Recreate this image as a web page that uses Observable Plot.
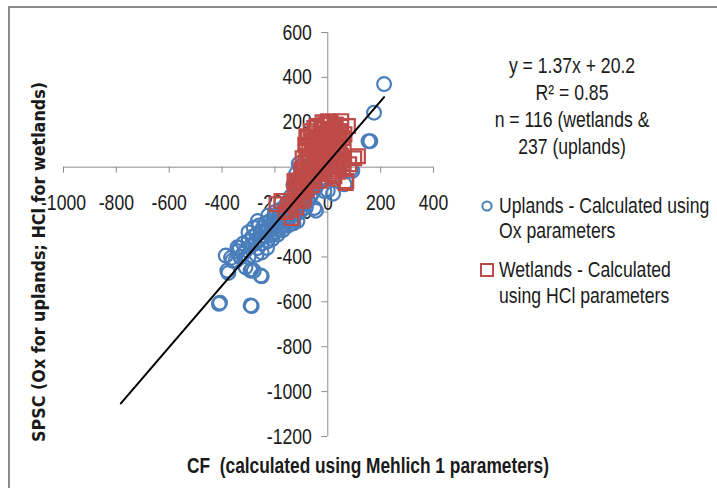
<!DOCTYPE html>
<html>
<head>
<meta charset="utf-8">
<script src="https://cdn.jsdelivr.net/npm/d3@7"></script>
<script src="https://cdn.jsdelivr.net/npm/@observablehq/plot@0.6"></script>
<style>
  html, body { margin: 0; padding: 0; background: #fff; overflow: hidden; }
  #wrap { position: relative; width: 717px; height: 488px; }
  #frame { position: absolute; left: 8px; top: 6px; width: 730px; height: 500px; border: 2px solid #8a8a8a; box-sizing: border-box; }
  .t { position: absolute; font-family: 'Liberation Sans', Arial, sans-serif; font-size: 22px; color: #1a1a1a; white-space: nowrap; line-height: 1; }
  .stat { transform: translate(-50%, -50%) scaleX(0.8); transform-origin: 50% 50%; }
  .leg { transform: translate(0, -50%) scaleX(0.8); transform-origin: 0 50%; }
</style>
</head>
<body>
<div id="wrap">
  <div id="frame"></div>
  <div id="chart"></div>
</div>
<script>
// ---- data ----
const xTicks = [-1000, -800, -600, -400, -200, 0, 200, 400];
const yTicks = [-1200, -1000, -800, -600, -400, -200, 0, 200, 400, 600];

const uplandsX = [213, 175, 161, 154, 86, 93, 63, 20, 0, -13, -45, -51, -83,
  -408, -288, -376, -366, -250, -288, -280, -333, -340, -320, -386, -380, -311, -292, -254, -412, -292, -342, -361, -330, -300, -227,
  -300, -290, -285, -275, -270, -265, -260, -255, -250, -245, -240, -238, -232, -228, -225, -220, -215, -212, -208, -205,
  -200, -198, -195, -190, -185, -182, -178, -175, -170, -165, -160, -158, -152, -150, -145, -140, -135, -130, -125, -120,
  -115, -110, -105, -100, -95, -90, -85, -80, -75, -70, -65, -60, -55, -50, -45, -40, -35, -30, -25, -20, -15, -10, -5,
  0, 5, 10, 15, 20, 30, 40, 50, -110, -100, -120, -130, -140, -310, -330, -350,
  -260, -235, -210, -190, -170, -150, -130, -180, -160, -140, -120, -250, -230, -270, -300, -320, -280, -225, -200, -265];
const uplandsY = [370, 243, 116, 116, -10, -16, -76, -118, -104, -107, -194, -182, -180,
  -604, -619, -471, -404, -486, -456, -462, -359, -375, -385, -394, -461, -446, -461, -483, -609, -616, -357, -416, -401, -290, -283,
  -330, -350, -310, -340, -300, -360, -320, -290, -340, -270, -310, -250, -290, -330, -265, -240, -300, -275, -250, -225,
  -290, -265, -230, -250, -280, -215, -245, -265, -230, -205, -255, -220, -240, -195, -215, -250, -200, -230, -185, -210,
  -240, -175, -200, -160, -185, -140, -165, -120, -150, -100, -130, -80, -110, -60, -90, -40, -70, -20, -50, 0, -30, 20, -10,
  30, 10, 50, 25, 70, 40, 90, 60, 15, 4, -30, -80, -130, -370, -400, -420,
  -260, -280, -320, -300, -280, -260, -250, -190, -170, -170, -150, -380, -360, -390, -400, -340, -270, -215, -200, -240];

const wetlandsX = [-194, -137, -175, -126, -119, -81, -81, -51, -43, 0, 51, 76, 114, 100, 81, 70, 68, 57, 63, -24, -100, -119,
  -110, -105, -100, -95, -90, -90, -85, -80, -75, -75, -70, -70, -65, -60, -60, -55, -50, -50, -45, -40, -40, -35, -30, -30,
  -25, -20, -20, -15, -10, -10, -10, -5, 0, 0, 5, 5, 10, 10, 15, 15, 20, 20, 25, 25, 30, 30, 35, 35, 40, 40, 45, 50, 50, 55,
  60, 60, -130, -120, -140, -150, -160, -125, -115, -100,
  -100, -95, -85, -75, -65, -55, -45, -35, -25, -15, -5, 5, 15, 25, 35, 45, 0, 10, -110, -90, -80, -60, -70, -50, -30, 20, 40, 55, -20, 10];
const wetlandsY = [-165, -226, -151, -62, -107, 138, 80, 174, 183, 205, 205, 183, 49, 40, 13, -62, -70, -3, 147, 147, -18, -62,
  -130, -90, -50, -110, -20, -70, 20, -40, 50, -10, 90, -60, 30, 120, -20, 60, 150, 10, 100, -30, 40, 130, 80, 0,
  170, 110, 40, -20, 190, 140, 70, 10, 160, 100, 40, -30, 190, 130, 70, 0, 170, 110, 40, -40, 190, 140, 80, 10, 160, -20, 110, 50, 180, 130,
  20, 90, -150, -180, -190, -170, -200, -100, -60, -150,
  -10, 40, 100, 130, 160, 110, 60, -10, 90, 150, 120, 170, 150, 180, 120, 160, 60, -10, -70, -140, -100, -80, 20, -50, -60, -50, 60, 30, 200, 200];

// trendline y = 1.37x + 20.2, drawn over the data's x range
const trendSlope = 1.37;
const trendIntercept = 20.2;
const trendXRange = [-783, 213];

// ---- build tables ----
const uplands = uplandsX.map((x, i) => ({x, y: uplandsY[i]}));
const wetlands = wetlandsX.map((x, i) => ({x, y: wetlandsY[i]}));
const trend = trendXRange.map(x => ({x, y: trendSlope * x + trendIntercept}));

const BLUE = "#4a7ebb", RED = "#be4b48", AXIS = "#8c8c8c";
const FONT = "'Liberation Sans', Arial, sans-serif";

const chart = Plot.plot({
  width: 717,
  height: 488,
  marginLeft: 63,
  marginRight: 284,
  marginTop: 32,
  marginBottom: 52,
  x: {domain: [-1000, 400], axis: null},
  y: {domain: [-1200, 600], axis: null},
  style: {fontFamily: FONT, fontSize: "22px", color: "#1a1a1a", background: "transparent"},
  marks: [
    Plot.ruleY([0], {x1: -1000, x2: 400, stroke: AXIS, strokeWidth: 1}),
    Plot.ruleX([0], {y1: -1200, y2: 600, stroke: AXIS, strokeWidth: 1}),
    Plot.ruleX(xTicks, {x: d => d, y1: 0, y2: 0, insetBottom: -6, stroke: AXIS, strokeWidth: 1}),
    Plot.ruleY(yTicks, {y: d => d, x1: 0, x2: 0, insetLeft: -6, stroke: AXIS, strokeWidth: 1}),
    Plot.text(xTicks, {x: d => d, y: 0, dy: 35.5, text: d => String(d), fontSize: 22, fill: "#1a1a1a"}),
    Plot.text(yTicks, {x: 0, y: d => d, dx: -16, text: d => String(d), textAnchor: "end", fontSize: 22, fill: "#1a1a1a"}),
    Plot.dot(uplands, {x: "x", y: "y", r: 6.9, stroke: BLUE, strokeWidth: 2.2, fill: "none"}),
    Plot.dot(wetlands, {x: "x", y: "y", symbol: "square", r: 7.8, stroke: RED, strokeWidth: 2.2, fill: "none"}),
    Plot.line(trend, {x: "x", y: "y", stroke: "#000", strokeWidth: 2})
  ]
});
document.getElementById("chart").appendChild(chart);

// narrow the tick labels (Calibri-like width)
d3.select(chart).selectAll("text").each(function() {
  const w = this.getComputedTextLength();
  if (w > 0) {
    this.setAttribute("textLength", (w * 0.8).toFixed(2));
    this.setAttribute("lengthAdjust", "spacingAndGlyphs");
  }
});

// axis titles
const svg = d3.select(chart);
svg.append("text")
  .attr("x", 368).attr("y", 465)
  .attr("text-anchor", "middle").attr("dominant-baseline", "central")
  .attr("font-family", FONT).attr("font-weight", "bold").attr("font-size", 22)
  .attr("textLength", 362).attr("lengthAdjust", "spacingAndGlyphs")
  .attr("fill", "#1a1a1a")
  .text("CF  (calculated using Mehlich 1 parameters)");
svg.append("text")
  .attr("transform", "translate(38,262) rotate(-90)")
  .attr("text-anchor", "middle").attr("dominant-baseline", "central")
  .attr("font-family", "'DejaVu Sans', Verdana, sans-serif").attr("font-weight", "bold").attr("font-size", 18)
  .attr("textLength", 360).attr("lengthAdjust", "spacingAndGlyphs")
  .attr("fill", "#1a1a1a")
  .text("SPSC (Ox for uplands; HCl for wetlands)");

// stats + legend text
const statLines = ["y = 1.37x + 20.2", "R² = 0.85", "n = 116 (wetlands &", "237 (uplands)"];
const statY = [66, 93, 120, 147];
const wrap = document.getElementById("wrap");
statLines.forEach((s, i) => {
  const d = document.createElement("div");
  d.className = "t stat";
  d.style.left = "572px"; d.style.top = statY[i] + "px";
  d.textContent = s;
  wrap.appendChild(d);
});
const legendItems = [
  {lines: ["Uplands - Calculated using", "Ox parameters"], color: BLUE, shape: "circle", y: [206, 231]},
  {lines: ["Wetlands - Calculated", "using HCl parameters"], color: RED, shape: "square", y: [270, 296]}
];
legendItems.forEach(item => {
  const m = document.createElementNS("http://www.w3.org/2000/svg", "svg");
  m.setAttribute("width", 16); m.setAttribute("height", 16);
  m.style.position = "absolute"; m.style.left = "479px"; m.style.top = (item.y[0] - 8) + "px";
  m.innerHTML = item.shape === "circle"
    ? `<circle cx="8" cy="8" r="4.6" fill="none" stroke="${item.color}" stroke-width="2"/>`
    : `<rect x="2" y="2" width="12" height="12" fill="none" stroke="${item.color}" stroke-width="2"/>`;
  wrap.appendChild(m);
  item.lines.forEach((s, i) => {
    const d = document.createElement("div");
    d.className = "t leg";
    d.style.left = "499px"; d.style.top = item.y[i] + "px";
    d.textContent = s;
    wrap.appendChild(d);
  });
});
</script>
</body>
</html>
